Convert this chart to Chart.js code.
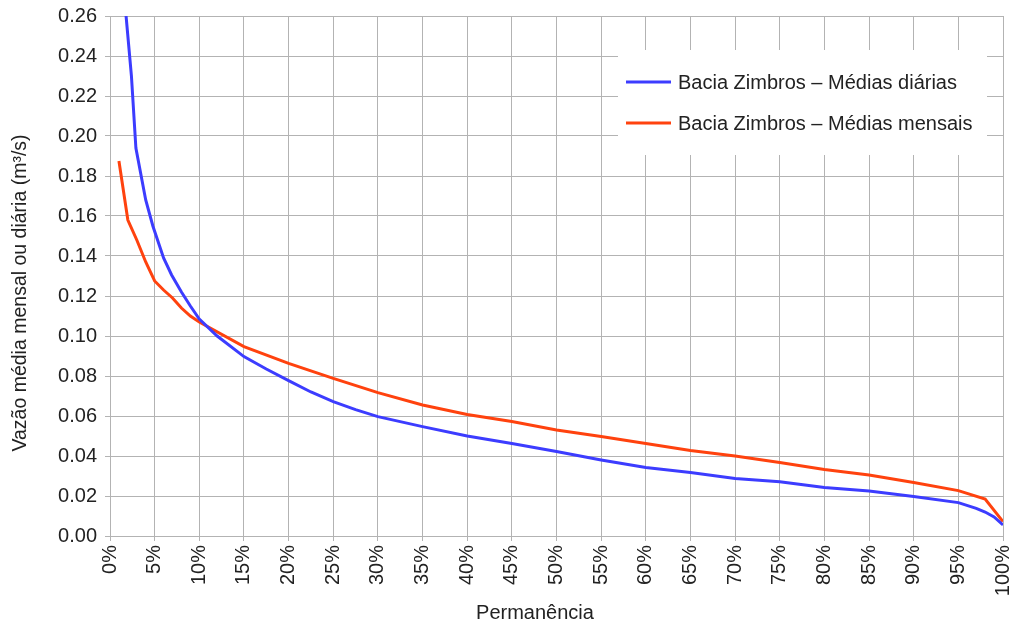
<!DOCTYPE html>
<html lang="pt">
  <head>
    <meta charset="utf-8" />
    <title>Curva de permanência - Bacia Zimbros</title>
    <style>
      * {
        margin: 0;
        padding: 0;
      }
      html,
      body {
        background: white;
        overflow: hidden;
      }
      .chartBox {
        width: 1012px;
        height: 625px;
      }
      canvas {
        display: block;
      }
    </style>
  </head>
  <body>
    <div class="chartBox">
      <canvas id="myChart"></canvas>
    </div>

    <script src="https://cdn.jsdelivr.net/npm/chart.js"></script>

    <script>
      // data block
      const dailyLabel = "Bacia Zimbros – Médias diárias";
      const dailyX = [1, 1.8, 2.4, 2.9, 4, 4.8, 6, 6.9, 8, 9, 10, 12, 15, 17.5, 20, 22.5, 25, 27.5, 30, 35, 40, 45, 50, 55, 60, 65, 70, 75, 80, 85, 90, 95, 97, 98, 99, 100];
      const dailyY = [0.3, 0.26, 0.23, 0.194, 0.168, 0.155, 0.139, 0.1305, 0.122, 0.115, 0.1085, 0.1, 0.0897, 0.0835, 0.0777, 0.072, 0.0672, 0.0632, 0.0597, 0.0547, 0.05, 0.0463, 0.0422, 0.038, 0.0343, 0.0317, 0.0288, 0.0271, 0.0243, 0.0225, 0.0197, 0.0167, 0.0138, 0.012, 0.0095, 0.0055];

      const monthlyLabel = "Bacia Zimbros – Médias mensais";
      const monthlyX = [1, 2, 3, 4, 5, 6, 7, 8, 9, 10, 15, 20, 25, 30, 35, 40, 45, 50, 55, 60, 65, 70, 75, 80, 85, 90, 95, 98, 100];
      const monthlyY = [0.1875, 0.158, 0.148, 0.137, 0.1275, 0.123, 0.119, 0.114, 0.11, 0.107, 0.0947, 0.0863, 0.0788, 0.0717, 0.0655, 0.0608, 0.0572, 0.053, 0.0497, 0.0463, 0.0427, 0.04, 0.0368, 0.0333, 0.0305, 0.0267, 0.0227, 0.0185, 0.0072];

      const xTitle = "Permanência";
      const yTitle = "Vazão média mensal ou diária (m³/s)";

      const blue = "#3c3cff";
      const red = "#ff420e";
      const grid = "#b3b3b3";
      const textColor = "#222";
      const fontFamily = "'Liberation Sans', Arial, sans-serif";
      const fontSize = 20;

      const toPoints = (xs, ys) => xs.map((x, i) => ({ x: x, y: ys[i] }));

      const data = {
        datasets: [
          {
            label: dailyLabel,
            data: toPoints(dailyX, dailyY),
            borderColor: blue,
            backgroundColor: blue,
            borderWidth: 3,
            pointRadius: 0,
            tension: 0,
          },
          {
            label: monthlyLabel,
            data: toPoints(monthlyX, monthlyY),
            borderColor: red,
            backgroundColor: red,
            borderWidth: 3,
            pointRadius: 0,
            tension: 0,
          },
        ],
      };

      // legend box + axis titles
      const boxLegend = {
        id: "boxLegend",
        afterDraw(chart) {
          const { ctx } = chart;
          ctx.save();
          ctx.fillStyle = "white";
          ctx.fillRect(618, 50, 369, 105);

          const items = [
            { text: dailyLabel, color: blue, y: 82 },
            { text: monthlyLabel, color: red, y: 123 },
          ];
          ctx.font = fontSize + "px " + fontFamily;
          ctx.textBaseline = "middle";
          items.forEach((item) => {
            ctx.strokeStyle = item.color;
            ctx.lineWidth = 3;
            ctx.beginPath();
            ctx.moveTo(626, item.y);
            ctx.lineTo(671, item.y);
            ctx.stroke();
            ctx.fillStyle = textColor;
            ctx.fillText(item.text, 678, item.y + 1);
          });

          // axis titles
          ctx.fillStyle = textColor;
          ctx.textAlign = "center";
          ctx.fillText(xTitle, 535, 613);
          ctx.font = "19.5px " + fontFamily;
          ctx.translate(21, 293);
          ctx.rotate(-Math.PI / 2);
          ctx.fillText(yTitle, 0, 0);
          ctx.restore();
        },
      };

      // config block
      const config = {
        type: "line",
        data: data,
        options: {
          responsive: true,
          maintainAspectRatio: false,
          animation: false,
          layout: {
            padding: { left: 0, right: 9, top: 16, bottom: 0 },
          },
          plugins: {
            legend: { display: false },
            tooltip: { enabled: false },
          },
          scales: {
            x: {
              type: "linear",
              min: 0,
              max: 100,
              grid: { color: grid, tickLength: 5, tickColor: grid },
              border: { color: grid },
              ticks: {
                stepSize: 5,
                minRotation: 90,
                maxRotation: 90,
                padding: 4,
                color: textColor,
                font: { family: fontFamily, size: fontSize },
                callback: (v) => v + "%",
              },
              afterFit(scale) {
                scale.height = 89;
                scale.paddingLeft = 0;
                scale.paddingRight = 0;
              },
            },
            y: {
              min: 0,
              max: 0.26,
              grid: { color: grid, tickLength: 5, tickColor: grid },
              border: { color: grid },
              ticks: {
                stepSize: 0.02,
                padding: 8,
                color: textColor,
                font: { family: fontFamily, size: fontSize },
                callback: (v) => v.toFixed(2),
              },
              afterFit(scale) {
                scale.width = 110;
                scale.paddingTop = 0;
                scale.paddingBottom = 0;
              },
            },
          },
        },
        plugins: [boxLegend],
      };

      // init render block
      const ctx = document.getElementById("myChart");
      const myChart = new Chart(ctx, config);
    </script>
  </body>
</html>
